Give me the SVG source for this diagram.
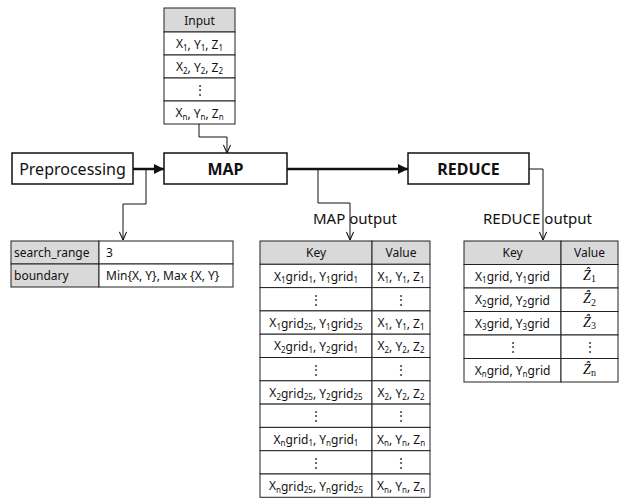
<svg xmlns="http://www.w3.org/2000/svg" width="627" height="501" viewBox="0 0 627 501">
<style>
text{font-family:"Noto Sans","Open Sans","Liberation Sans",sans-serif;fill:#111}
.t{font-size:12px;text-anchor:middle;dominant-baseline:central}
.l{font-size:12px;dominant-baseline:central}
.s{font-size:8px}
.box{fill:#fff;stroke:#111;stroke-width:1.5}
.cell{fill:#fff;stroke:#222;stroke-width:1}
.hd{fill:#d9d9d9;stroke:#222;stroke-width:1}
.big{font-size:16px;text-anchor:middle;dominant-baseline:central}
.bold{font-weight:bold}
.lab{font-size:15px;dominant-baseline:central}
.thin{fill:none;stroke:#111;stroke-width:1;marker-end:url(#open)}
.thick{fill:none;stroke:#111;stroke-width:2.5;marker-end:url(#fill)}
.z{font-family:"Liberation Serif",serif;font-style:italic;font-size:14px;text-anchor:middle;dominant-baseline:central}
.zs{font-style:normal;font-size:10px}
</style>
<defs>
<marker id="open" viewBox="0 0 10 10" refX="10" refY="5" markerWidth="9" markerHeight="9" markerUnits="userSpaceOnUse" orient="auto">
<path d="M1,1 L10,5 L1,9" fill="none" stroke="#111" stroke-width="1.2"/>
</marker>
<marker id="fill" viewBox="0 0 10 10" refX="10" refY="5" markerWidth="4" markerHeight="4" orient="auto">
<path d="M0,0 L10,5 L0,10 z" fill="#111"/>
</marker>
</defs>

<g id="input">
<rect class="hd" x="164" y="8" width="71" height="24"/>
<rect class="cell" x="164" y="32" width="71" height="23"/>
<rect class="cell" x="164" y="55" width="71" height="23"/>
<rect class="cell" x="164" y="78" width="71" height="23"/>
<rect class="cell" x="164" y="101" width="71" height="23"/>
<text class="t" x="199.5" y="20">Input</text>
<text class="t" x="199.5" y="43.5">X<tspan class="s" dy="3">1</tspan><tspan dy="-3">, Y</tspan><tspan class="s" dy="3">1</tspan><tspan dy="-3">, Z</tspan><tspan class="s" dy="3">1</tspan></text>
<text class="t" x="199.5" y="66.5">X<tspan class="s" dy="3">2</tspan><tspan dy="-3">, Y</tspan><tspan class="s" dy="3">2</tspan><tspan dy="-3">, Z</tspan><tspan class="s" dy="3">2</tspan></text>
<text class="t" x="199.5" y="89.5">⋮</text>
<text class="t" x="199.5" y="112.5">X<tspan class="s" dy="3">n</tspan><tspan dy="-3">, Y</tspan><tspan class="s" dy="3">n</tspan><tspan dy="-3">, Z</tspan><tspan class="s" dy="3">n</tspan></text>
</g>

<g id="preprocessing">
<rect class="box" x="12" y="153" width="121" height="31"/>
<text class="big" x="72.5" y="168.5">Preprocessing</text>
</g>

<g id="map">
<rect class="box" x="164" y="153" width="123" height="31"/>
<text class="big bold" x="225.5" y="168.5">MAP</text>
</g>

<g id="reduce">
<rect class="box" x="408" y="153" width="121" height="31"/>
<text class="big bold" x="468.5" y="168.5">REDUCE</text>
</g>

<g id="params">
<rect class="hd" x="11" y="241" width="88" height="23"/>
<rect class="hd" x="11" y="264" width="88" height="23"/>
<rect class="cell" x="99" y="241" width="134" height="23"/>
<rect class="cell" x="99" y="264" width="134" height="23"/>
<text class="l" x="14" y="252.5">search_range</text>
<text class="l" x="14" y="275.5">boundary</text>
<text class="l" x="106" y="252.5">3</text>
<text class="l" x="106" y="275.5">Min{X, Y}, Max {X, Y}</text>
</g>

<g id="map-output">
<text class="lab" x="313" y="218">MAP output</text>
<rect class="hd" x="260" y="241" width="112" height="23.3"/>
<rect class="hd" x="372" y="241" width="58" height="23.3"/>
<g class="rows">
<rect class="cell" x="260" y="264.3" width="112" height="23.3"/><rect class="cell" x="372" y="264.3" width="58" height="23.3"/>
<rect class="cell" x="260" y="287.6" width="112" height="23.3"/><rect class="cell" x="372" y="287.6" width="58" height="23.3"/>
<rect class="cell" x="260" y="310.9" width="112" height="23.3"/><rect class="cell" x="372" y="310.9" width="58" height="23.3"/>
<rect class="cell" x="260" y="334.2" width="112" height="23.3"/><rect class="cell" x="372" y="334.2" width="58" height="23.3"/>
<rect class="cell" x="260" y="357.5" width="112" height="23.3"/><rect class="cell" x="372" y="357.5" width="58" height="23.3"/>
<rect class="cell" x="260" y="380.8" width="112" height="23.3"/><rect class="cell" x="372" y="380.8" width="58" height="23.3"/>
<rect class="cell" x="260" y="404.1" width="112" height="23.3"/><rect class="cell" x="372" y="404.1" width="58" height="23.3"/>
<rect class="cell" x="260" y="427.4" width="112" height="23.3"/><rect class="cell" x="372" y="427.4" width="58" height="23.3"/>
<rect class="cell" x="260" y="450.7" width="112" height="23.3"/><rect class="cell" x="372" y="450.7" width="58" height="23.3"/>
<rect class="cell" x="260" y="474" width="112" height="23.3"/><rect class="cell" x="372" y="474" width="58" height="23.3"/>
</g>
<text class="t" x="316" y="252.6">Key</text>
<text class="t" x="401" y="252.6">Value</text>
<text class="t" x="316" y="276">X<tspan class="s" dy="3">1</tspan><tspan dy="-3">grid</tspan><tspan class="s" dy="3">1</tspan><tspan dy="-3">, Y</tspan><tspan class="s" dy="3">1</tspan><tspan dy="-3">grid</tspan><tspan class="s" dy="3">1</tspan></text>
<text class="t" x="401" y="276">X<tspan class="s" dy="3">1</tspan><tspan dy="-3">, Y</tspan><tspan class="s" dy="3">1</tspan><tspan dy="-3">, Z</tspan><tspan class="s" dy="3">1</tspan></text>
<text class="t" x="316" y="299.3">⋮</text><text class="t" x="401" y="299.3">⋮</text>
<text class="t" x="316" y="322.6">X<tspan class="s" dy="3">1</tspan><tspan dy="-3">grid</tspan><tspan class="s" dy="3">25</tspan><tspan dy="-3">, Y</tspan><tspan class="s" dy="3">1</tspan><tspan dy="-3">grid</tspan><tspan class="s" dy="3">25</tspan></text>
<text class="t" x="401" y="322.6">X<tspan class="s" dy="3">1</tspan><tspan dy="-3">, Y</tspan><tspan class="s" dy="3">1</tspan><tspan dy="-3">, Z</tspan><tspan class="s" dy="3">1</tspan></text>
<text class="t" x="316" y="345.9">X<tspan class="s" dy="3">2</tspan><tspan dy="-3">grid</tspan><tspan class="s" dy="3">1</tspan><tspan dy="-3">, Y</tspan><tspan class="s" dy="3">2</tspan><tspan dy="-3">grid</tspan><tspan class="s" dy="3">1</tspan></text>
<text class="t" x="401" y="345.9">X<tspan class="s" dy="3">2</tspan><tspan dy="-3">, Y</tspan><tspan class="s" dy="3">2</tspan><tspan dy="-3">, Z</tspan><tspan class="s" dy="3">2</tspan></text>
<text class="t" x="316" y="369.2">⋮</text><text class="t" x="401" y="369.2">⋮</text>
<text class="t" x="316" y="392.5">X<tspan class="s" dy="3">2</tspan><tspan dy="-3">grid</tspan><tspan class="s" dy="3">25</tspan><tspan dy="-3">, Y</tspan><tspan class="s" dy="3">2</tspan><tspan dy="-3">grid</tspan><tspan class="s" dy="3">25</tspan></text>
<text class="t" x="401" y="392.5">X<tspan class="s" dy="3">2</tspan><tspan dy="-3">, Y</tspan><tspan class="s" dy="3">2</tspan><tspan dy="-3">, Z</tspan><tspan class="s" dy="3">2</tspan></text>
<text class="t" x="316" y="415.8">⋮</text><text class="t" x="401" y="415.8">⋮</text>
<text class="t" x="316" y="439.1">X<tspan class="s" dy="3">n</tspan><tspan dy="-3">grid</tspan><tspan class="s" dy="3">1</tspan><tspan dy="-3">, Y</tspan><tspan class="s" dy="3">n</tspan><tspan dy="-3">grid</tspan><tspan class="s" dy="3">1</tspan></text>
<text class="t" x="401" y="439.1">X<tspan class="s" dy="3">n</tspan><tspan dy="-3">, Y</tspan><tspan class="s" dy="3">n</tspan><tspan dy="-3">, Z</tspan><tspan class="s" dy="3">n</tspan></text>
<text class="t" x="316" y="462.4">⋮</text><text class="t" x="401" y="462.4">⋮</text>
<text class="t" x="316" y="485.7">X<tspan class="s" dy="3">n</tspan><tspan dy="-3">grid</tspan><tspan class="s" dy="3">25</tspan><tspan dy="-3">, Y</tspan><tspan class="s" dy="3">n</tspan><tspan dy="-3">grid</tspan><tspan class="s" dy="3">25</tspan></text>
<text class="t" x="401" y="485.7">X<tspan class="s" dy="3">n</tspan><tspan dy="-3">, Y</tspan><tspan class="s" dy="3">n</tspan><tspan dy="-3">, Z</tspan><tspan class="s" dy="3">n</tspan></text>
</g>

<g id="reduce-output">
<text class="lab" x="483" y="218">REDUCE output</text>
<rect class="hd" x="464" y="241" width="97" height="23.5"/>
<rect class="hd" x="561" y="241" width="57" height="23.5"/>
<rect class="cell" x="464" y="264.5" width="97" height="23.5"/><rect class="cell" x="561" y="264.5" width="57" height="23.5"/>
<rect class="cell" x="464" y="288" width="97" height="23.5"/><rect class="cell" x="561" y="288" width="57" height="23.5"/>
<rect class="cell" x="464" y="311.5" width="97" height="23.5"/><rect class="cell" x="561" y="311.5" width="57" height="23.5"/>
<rect class="cell" x="464" y="335" width="97" height="23.5"/><rect class="cell" x="561" y="335" width="57" height="23.5"/>
<rect class="cell" x="464" y="358.5" width="97" height="23.5"/><rect class="cell" x="561" y="358.5" width="57" height="23.5"/>
<text class="t" x="512.5" y="252.7">Key</text>
<text class="t" x="589.5" y="252.7">Value</text>
<text class="t" x="512.5" y="276.2">X<tspan class="s" dy="3">1</tspan><tspan dy="-3">grid, Y</tspan><tspan class="s" dy="3">1</tspan><tspan dy="-3">grid</tspan></text>
<text class="t" x="512.5" y="299.7">X<tspan class="s" dy="3">2</tspan><tspan dy="-3">grid, Y</tspan><tspan class="s" dy="3">2</tspan><tspan dy="-3">grid</tspan></text>
<text class="t" x="512.5" y="323.2">X<tspan class="s" dy="3">3</tspan><tspan dy="-3">grid, Y</tspan><tspan class="s" dy="3">3</tspan><tspan dy="-3">grid</tspan></text>
<text class="t" x="512.5" y="346.7">⋮</text>
<text class="t" x="512.5" y="370.2">X<tspan class="s" dy="3">n</tspan><tspan dy="-3">grid, Y</tspan><tspan class="s" dy="3">n</tspan><tspan dy="-3">grid</tspan></text>
<text class="z" x="589.5" y="275.2">Ẑ<tspan class="zs" dy="3">1</tspan></text>
<text class="z" x="589.5" y="298.7">Ẑ<tspan class="zs" dy="3">2</tspan></text>
<text class="z" x="589.5" y="322.2">Ẑ<tspan class="zs" dy="3">3</tspan></text>
<text class="t" x="589.5" y="346.7">⋮</text>
<text class="z" x="589.5" y="369.2">Ẑ<tspan class="zs" dy="3">n</tspan></text>
</g>

<g id="connectors">
<polyline class="thin" points="199,124 199,137 227,137 227,153"/>
<polyline class="thick" points="133,169 164,169"/>
<polyline class="thick" points="287,169 408,169"/>
<polyline class="thin" points="146,169 146,204 123,204 123,240"/>
<polyline class="thin" points="318,169 318,203 350,203 350,240"/>
<polyline class="thin" points="529,169 543,169 543,240"/>
</g>
</svg>
